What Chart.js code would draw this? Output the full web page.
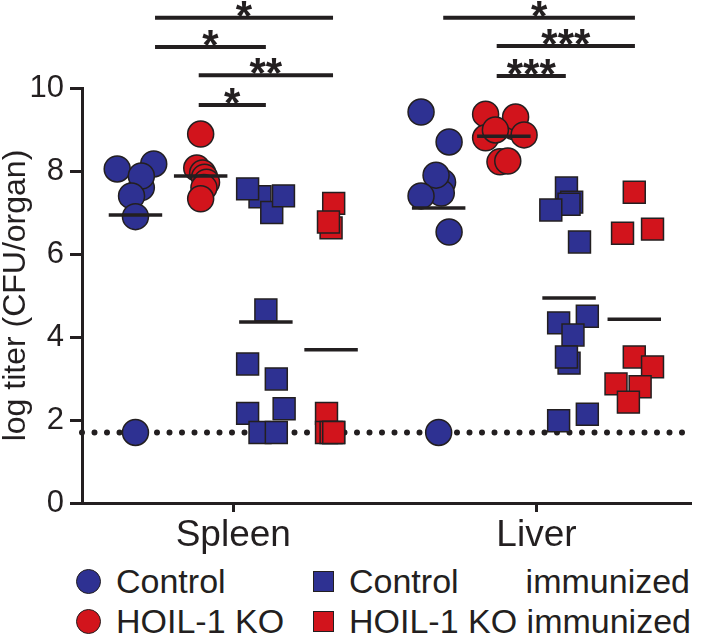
<!DOCTYPE html>
<html lang="en">
<head>
<meta charset="utf-8"/>
<title>log titer by organ</title>
<script src="https://cdn.jsdelivr.net/npm/chart.js"></script>
<style>
body { margin: 0; background: #fff; }
#wrap { position: relative; width: 708px; height: 644px; }
#legend { position: absolute; left: 0; top: 560px; width: 708px; height: 84px;
  font-family: "Liberation Sans", Arial, sans-serif; font-size: 34px; color: #231f20; }
.item { position: absolute; height: 40px; line-height: 40px; white-space: nowrap; }
.mark { position: absolute; border: 1.5px solid #231f20; box-sizing: border-box; }
</style>
</head>
<body>
<div id="wrap">
<canvas id="chart" width="708" height="560"></canvas>
<div id="legend"></div>
</div>
<script>
"use strict";
const BLUE = "#2e3192";
const RED = "#d2141c";
const INK = "#231f20";
const FONT = "'Liberation Sans', Arial, sans-serif";

const organs = ["Spleen", "Liver"];
const groupNames = ["Control", "HOIL-1 KO", "Control immunized", "HOIL-1 KO immunized"];
// x position of each group column (spleen then liver)
const groupX = [0, 1, 2, 3, 4.65, 5.65, 6.65, 7.65];
const lod = 1.7;

// log titer, one array per column; *Jit = sideways scatter of each dot
const spleenControl    = [8.17, 8.05, 7.6, 7.88, 7.4, 6.9, 1.7];
const spleenControlJit = [0.28, -0.28, 0.09, 0.09, -0.06, 0, 0];
const spleenKO         = [8.89, 8.07, 7.95, 7.85, 7.73, 7.6, 7.33];
const spleenKOJit      = [0, -0.06, 0.03, 0.06, 0.09, 0.05, 0];
const spleenCtrlImm    = [7.38, 7.0, 7.4, 7.57, 4.65, 3.35, 2.99, 2.16, 2.27, 1.7, 1.7];
const spleenCtrlImmJit = [-0.09, 0.09, 0.27, -0.28, 0, -0.28, 0.16, -0.28, 0.28, -0.09, 0.16];
const spleenKOImm      = [7.22, 6.63, 6.77, 2.16, 1.7, 1.7, 1.7, 1.7];
const spleenKOImmJit   = [0.04, 0, -0.04, -0.07, -0.07, 0, 0.04, 0.04];

const liverControl     = [9.42, 8.7, 7.73, 7.47, 7.9, 7.4, 6.53, 1.7];
const liverControlJit  = [-0.27, 0.16, 0.06, 0.04, -0.04, -0.27, 0.16, 0];
const liverKO          = [9.37, 9.07, 9.3, 8.8, 8.87, 8.99, 8.22, 8.24];
const liverKOJit       = [-0.28, 0.15, 0.18, -0.28, 0.31, -0.13, -0.06, 0.06];
const liverCtrlImm     = [7.59, 7.25, 7.2, 7.06, 6.29, 4.34, 4.5, 4.05, 3.37, 3.52, 1.98, 2.14];
const liverCtrlImmJit  = [-0.04, 0.04, 0, -0.28, 0.16, -0.16, 0.28, 0.06, 0, -0.04, -0.16, 0.28];
const liverKOImm       = [7.49, 6.5, 6.6, 3.52, 3.28, 2.87, 2.8, 2.43];
const liverKOImmJit    = [0, -0.18, 0.28, 0, 0.28, -0.28, 0.09, -0.09];

const spleenMeans = [6.94, 7.88, 4.36, 3.69];
const liverMeans  = [7.11, 8.84, 4.94, 4.43];

// significance brackets
const sigFrom  = [0.3, 0.3, 0.97, 0.97, 4.72, 5.54, 5.54];
const sigTo    = [3.03, 2.0, 3.03, 2.0, 7.66, 7.66, 6.6];
const sigLevel = [11.69, 10.99, 10.31, 9.59, 11.69, 11.01, 10.29];
const sigText  = ["*", "*", "**", "*", "*", "***", "***"];

const X_MIN = -0.82, X_MAX = 8.52;

const columns = [
  [spleenControl, spleenControlJit], [spleenKO, spleenKOJit],
  [spleenCtrlImm, spleenCtrlImmJit], [spleenKOImm, spleenKOImmJit],
  [liverControl, liverControlJit], [liverKO, liverKOJit],
  [liverCtrlImm, liverCtrlImmJit], [liverKOImm, liverKOImmJit]
];
const means = spleenMeans.concat(liverMeans);
const colorOf = i => (i % 2 === 0 ? BLUE : RED);
const shapeOf = i => (i % 4 < 2 ? "circle" : "rect");

const datasets = [];
// mean bars on top
means.forEach((m, i) => {
  datasets.push({
    type: "line", order: 0, clip: false,
    data: [{x: groupX[i] - 0.41, y: m}, {x: groupX[i] + 0.41, y: m}],
    borderColor: INK, borderWidth: 3.5, pointRadius: 0
  });
});
columns.forEach((col, i) => {
  const vals = col[0], jit = col[1];
  const shape = shapeOf(i);
  datasets.push({
    type: "scatter", order: 1, clip: false,
    data: vals.map((v, k) => ({x: groupX[i] + jit[k], y: v})),
    pointStyle: shape,
    pointRadius: shape === "circle" ? 13 : 15.5,
    backgroundColor: colorOf(i),
    borderColor: INK,
    borderWidth: 1.5
  });
});
// detection limit
datasets.push({
  type: "line", order: 2, clip: false,
  data: [{x: X_MIN, y: lod}, {x: X_MAX, y: lod}],
  borderColor: INK, borderWidth: 6, borderDash: [0, 12.5], borderCapStyle: "round",
  pointRadius: 0
});
// brackets
sigLevel.forEach((lv, i) => {
  datasets.push({
    type: "line", order: 0, clip: false,
    data: [{x: sigFrom[i], y: lv}, {x: sigTo[i], y: lv}],
    borderColor: INK, borderWidth: 4, pointRadius: 0
  });
});

const starPlugin = {
  id: "stars",
  afterDatasetsDraw(chart){
    const ctx = chart.ctx, xs = chart.scales.x, ys = chart.scales.y;
    ctx.save();
    ctx.fillStyle = INK;
    ctx.font = "bold 42px " + FONT;
    ctx.textAlign = "center";
    ctx.textBaseline = "alphabetic";
    sigText.forEach((t, i) => {
      const cx = xs.getPixelForValue((sigFrom[i] + sigTo[i]) / 2);
      const by = ys.getPixelForValue(sigLevel[i]);
      const m = ctx.measureText(t);
      ctx.fillText(t, cx, by - 1 - m.actualBoundingBoxDescent);
    });
    ctx.restore();
  }
};

const organCenters = [
  (groupX[0] + groupX[3]) / 2,
  (groupX[4] + groupX[7]) / 2
];

new Chart(document.getElementById("chart"), {
  type: "scatter",
  data: {datasets: datasets},
  plugins: [starPlugin],
  options: {
    responsive: false,
    animation: false,
    devicePixelRatio: 1,
    layout: {padding: {top: 88, right: 0, bottom: 0, left: 0}},
    plugins: {legend: {display: false}, tooltip: {enabled: false}},
    scales: {
      x: {
        type: "linear", min: X_MIN, max: X_MAX,
        afterBuildTicks: s => { s.ticks = organCenters.map(v => ({value: v})); },
        afterFit: s => { s.height = 57; },
        ticks: {
          callback: (v, i) => organs[i],
          font: {family: FONT, size: 37}, color: INK, padding: 2
        },
        grid: {display: true, drawOnChartArea: false, drawTicks: true, tickLength: 9, tickWidth: 3, color: INK},
        border: {display: true, width: 3, color: INK}
      },
      y: {
        min: 0, max: 10,
        afterFit: s => { s.width = 82; },
        ticks: {stepSize: 2, font: {family: FONT, size: 31}, color: INK, padding: 6},
        grid: {display: true, drawOnChartArea: false, drawTicks: true, tickLength: 12, tickWidth: 3, color: INK},
        border: {display: true, width: 3, color: INK},
        title: {display: true, text: "log titer (CFU/organ)", font: {family: FONT, size: 32, lineHeight: 1}, color: INK, padding: {top: 0, bottom: 0}}
      }
    }
  }
});

// legend below the chart
const legend = document.getElementById("legend");
const legendSlots = [
  {left: 76, top: 1, textLeft: 116},
  {left: 76, top: 41, textLeft: 116},
  {left: 313, top: 1, textLeft: 349},
  {left: 313, top: 41, textLeft: 349}
];
groupNames.forEach((name, i) => {
  const s = legendSlots[i];
  const circle = i < 2;
  const size = circle ? 25 : 21;
  const mk = document.createElement("div");
  mk.className = "mark";
  mk.style.left = s.left + "px";
  mk.style.top = (s.top + 20 - size / 2) + "px";
  mk.style.width = size + "px";
  mk.style.height = size + "px";
  mk.style.background = i % 2 === 0 ? BLUE : RED;
  if(circle) mk.style.borderRadius = "50%";
  legend.appendChild(mk);
  const tx = document.createElement("div");
  tx.className = "item";
  tx.style.left = s.textLeft + "px";
  tx.style.top = s.top + "px";
  if(i === 2){
    tx.style.width = (690 - s.textLeft) + "px";
    tx.style.display = "flex";
    tx.style.justifyContent = "space-between";
    const parts = name.split(" ");
    parts.forEach(p => { const sp = document.createElement("span"); sp.textContent = p; tx.appendChild(sp); });
  }else{
    tx.textContent = name;
  }
  legend.appendChild(tx);
});
</script>
</body>
</html>
